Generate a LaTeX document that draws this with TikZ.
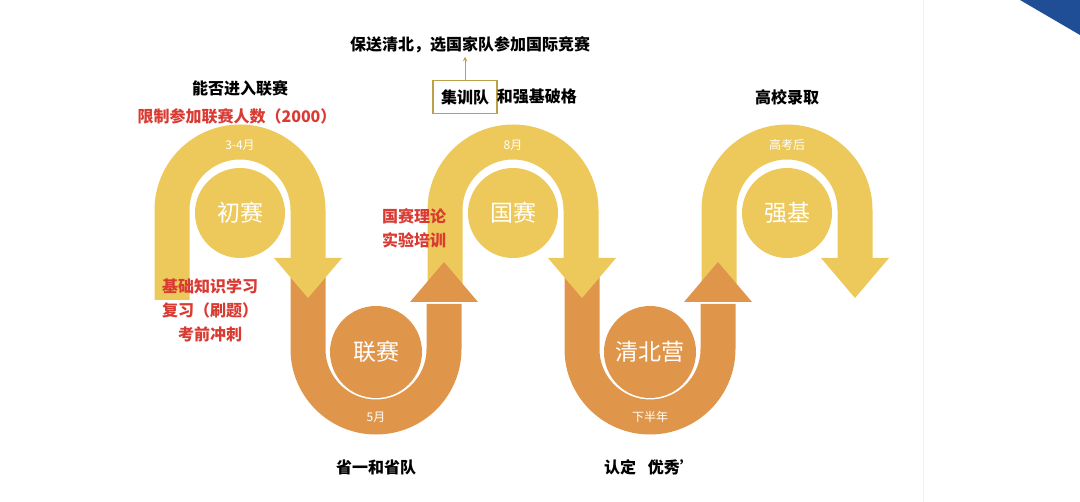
\documentclass[tikz,border=0pt]{standalone}
\usepackage{fontspec}
\setmainfont{Noto Sans CJK SC}
\definecolor{yel}{HTML}{EDC85A}
\definecolor{ora}{HTML}{E0964A}
\definecolor{redt}{HTML}{D93A32}
\definecolor{navy}{HTML}{1F4E96}
\begin{document}
\begin{tikzpicture}[x=1pt,y=1pt,
  band/.style={line width=35pt},
  big/.style={text=white,font=\fontsize{23}{25}\selectfont},
  small/.style={text=white,font=\fontsize{12}{13}\selectfont},
  blk/.style={text=black,font=\bfseries\fontsize{16}{18}\selectfont},
  red/.style={text=redt,font=\bfseries\fontsize{16}{24}\selectfont,align=center}]
\useasboundingbox (0,0) rectangle (1080,-502);
\fill[navy] (1020,0) -- (1080,0) -- (1080,-35) -- cycle;
\draw[black!6,line width=1pt] (923,0) -- (923,-502);
% yellow arches
\foreach \cx in {240,513,787}{
  \draw[band,yel] (\cx-68,-300) -- (\cx-68,-210) arc (180:0:68) -- (\cx+68,-260);
  \fill[yel] (\cx,-213) circle (45);
}
% orange arches
\foreach \cx in {376,650}{
  \draw[band,ora] (\cx-68,-262) -- (\cx-68,-349) arc (180:360:68) -- (\cx+68,-304);
  \fill[ora] (\cx,-352) circle (46);
}
% heads
\foreach \cx in {308,582,855}
  \fill[yel] (\cx-34,-258) -- (\cx+34,-258) -- (\cx,-298) -- cycle;
\foreach \cx in {444,718}
  \fill[ora] (\cx-34,-302) -- (\cx+34,-302) -- (\cx,-262) -- cycle;
% circle labels
\node[big] (c1) at (240,-213) {初赛};
\node[big] (c2) at (376,-352) {联赛};
\node[big] (c3) at (513,-213) {国赛};
\node[big] (c4) at (650,-352) {清北营};
\node[big] (c5) at (787,-213) {强基};
\node[small] (t1) at (240,-145) {3-4月};
\node[small] (t2) at (376,-417) {5月};
\node[small] (t3) at (513,-145) {8月};
\node[small] (t4) at (650,-417) {下半年};
\node[small] (t5) at (787,-145) {高考后};
% text labels
\node[blk] (l1) at (240,-88) {能否进入联赛};
\node[red] (r1) at (237,-116) {限制参加联赛人数（2000）};
\node[red] (r2) at (210,-310) {基础知识学习\\复习（刷题）\\考前冲刺};
\node[red] (r3) at (414,-228) {国赛理论\\实验培训};
\node[blk] (l2) at (470,-45) {保送清北，选国家队参加国际竞赛};
\node[blk,draw=yel!80!black,line width=1.2pt,minimum height=33pt,inner xsep=8pt] (bx) at (465,-97) {集训队};
\node[blk,anchor=west,inner sep=0pt] (l3) at ([xshift=-1pt]bx.east) {和强基破格};
\draw[yel!80!black,line width=1pt,-stealth] (bx.north) -- (bx.north |- l2.south);
\node[blk] (l4) at (787,-97) {高校录取};
\node[blk] (l5) at (376,-467) {省一和省队};
\node[blk] (l6) at (650,-467) {认定 ‘\kern-0.5em 优秀’};
\end{tikzpicture}
\end{document}
